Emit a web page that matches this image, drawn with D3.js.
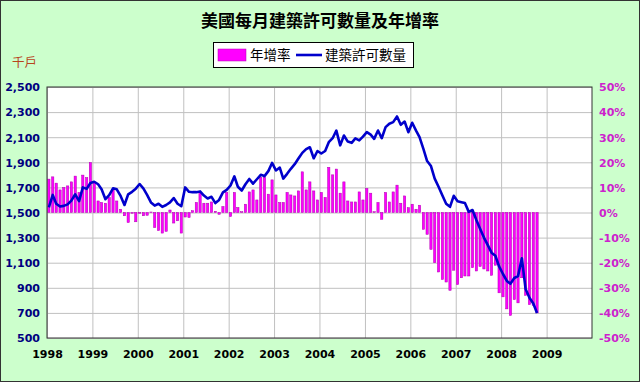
<!DOCTYPE html>
<html>
<head>
<meta charset="utf-8">
<script src="https://cdn.jsdelivr.net/npm/d3@7"></script>
<style>
  html, body { margin: 0; padding: 0; background: #fff; }
  svg { display: block; }
</style>
</head>
<body>
<svg id="chart" width="640" height="382"></svg>
<script>
// * chart data (monthly, Jan 1998 - Oct 2008)
const yearLabels = ["1998", "1999", "2000", "2001", "2002", "2003", "2004", "2005", "2006", "2007", "2008", "2009"];
const permitTicks = [500, 700, 900, 1100, 1300, 1500, 1700, 1900, 2100, 2300, 2500];
const growthTicks = [-50, -40, -30, -20, -10, 0, 10, 20, 30, 40, 50];
const legendLabels = ["年增率", "建築許可數量"];

// 建築許可數量 (千戶)
const permits = [
  1540, 1640, 1570, 1548, 1553, 1565, 1595, 1645, 1590, 1700, 1688, 1735,
  1745, 1725, 1685, 1606, 1638, 1693, 1685, 1632, 1560, 1645, 1665, 1690,
  1727, 1690, 1640, 1580, 1555, 1570, 1545, 1560, 1580, 1615, 1570, 1550,
  1700, 1665, 1662, 1662, 1668, 1635, 1612, 1625, 1575, 1600, 1660, 1680,
  1715, 1788, 1705, 1675, 1725, 1767, 1730, 1765, 1800, 1790, 1830, 1895,
  1835, 1858, 1770, 1808, 1848, 1885, 1930, 1975, 2005, 2020, 1932, 1990,
  1970, 1990, 2060, 2092, 2153, 2035, 2113, 2065, 2055, 2090, 2075, 2105,
  2140, 2120, 2087, 2153, 2092, 2180, 2207, 2220, 2265, 2199, 2225, 2140,
  2215, 2153, 2100, 2007, 1910, 1870, 1770, 1705, 1635, 1570, 1545, 1633,
  1590, 1582, 1575, 1505, 1520, 1440, 1370, 1300, 1240, 1180, 1155, 1070,
  1010, 955, 932, 978, 993, 1135, 890, 820, 775, 700,
];

// 年增率 (%)
const yoyGrowth = [
  13.3, 14.2, 11.7, 9.0, 10.0, 10.6, 12.2, 14.5, 8.0, 14.9, 13.9, 19.9,
  12.0, 4.6, 4.0, 3.7, 6.0, 9.0, 4.6, 1.3, -1.3, -4.0, -0.3, -3.7,
  -0.3, -1.3, -1.1, 0.2, -6.0, -7.2, -8.2, -7.5, 1.0, -4.2, -3.3, -8.2,
  -1.8, -2.0, 0.7, 4.0, 8.0, 3.7, 3.7, 4.2, 0.5, -0.7, 2.4, 8.0,
  -1.6, 8.0, 2.0, 0.3, 3.3, 8.2, 9.0, 5.0, 14.0, 14.0, 7.3, 13.0,
  7.0, 4.0, 4.0, 8.0, 7.0, 6.6, 8.6, 16.2, 9.0, 12.2, 8.6, 5.0,
  8.0, 6.0, 18.0, 15.0, 17.3, 7.7, 12.2, 4.6, 4.2, 4.2, 8.2, 5.0,
  9.6, 7.7, 0.3, 4.0, -2.7, 8.0, 4.2, 8.2, 10.9, 3.7, 6.6, 1.9,
  3.3, 1.3, 2.9, -6.7, -8.7, -14.7, -20.0, -23.7, -26.7, -27.7, -31.0, -23.0,
  -28.7, -26.0, -25.3, -25.3, -22.0, -23.3, -21.5, -22.5, -23.3, -25.0, -21.0, -32.0,
  -33.6, -38.4, -41.0, -34.7, -36.0, -26.0, -33.0, -36.7, -37.0, -40.0,
];

const months = d3.timeMonth.range(new Date(1998, 0, 1), new Date(2008, 10, 1));

const svg = d3.select("#chart");
const W = 640, H = 382;
const plot = { left: 47, right: 592, top: 87, bottom: 338 };
const cjk = "'Noto Sans CJK TC', 'Noto Sans CJK SC', sans-serif";
const num = "'DejaVu Sans', Verdana, sans-serif";

// * background + frame
svg.append("rect")
  .attr("x", 0.5).attr("y", 0.5)
  .attr("width", W - 1).attr("height", H - 1)
  .style("fill", "#CCFFCC")
  .style("stroke", "#333")
  .style("stroke-width", 1);

// * scales
const xScale = d3.scaleTime()
  .domain([new Date(1998, 0, 1), new Date(2010, 0, 1)])
  .range([plot.left, plot.right]);
const yLeft = d3.scaleLinear().domain([500, 2500]).range([plot.bottom, plot.top]);
const yRight = d3.scaleLinear().domain([-50, 50]).range([plot.bottom, plot.top]);
const xCenter = (i) => xScale(d3.timeDay.offset(months[i], 15));
const step = (plot.right - plot.left) / 144;
const barWidth = step * 0.6;

// * plot area
svg.append("rect")
  .attr("x", plot.left).attr("y", plot.top)
  .attr("width", plot.right - plot.left).attr("height", plot.bottom - plot.top)
  .style("fill", "#fff");

// * gridlines from axes
const yearDates = yearLabels.map((y) => new Date(+y, 0, 1));
svg.append("g")
  .attr("transform", `translate(0,${plot.top})`)
  .call(d3.axisBottom(xScale).tickValues(yearDates).tickSize(plot.bottom - plot.top).tickFormat(""))
  .call((g) => g.select(".domain").remove())
  .call((g) => g.selectAll("line").style("stroke", "#C0C0C0"));

svg.append("g")
  .attr("transform", `translate(${plot.left},0)`)
  .call(d3.axisRight(yLeft).tickValues(permitTicks).tickSize(plot.right - plot.left).tickFormat(""))
  .call((g) => g.select(".domain").remove())
  .call((g) => g.selectAll("line").style("stroke", "#C0C0C0"));

// * bars (年增率, right axis)
svg.append("g")
  .selectAll("rect")
  .data(yoyGrowth)
  .enter()
  .append("rect")
  .attr("x", (d, i) => xCenter(i) - barWidth / 2)
  .attr("y", (d) => Math.min(yRight(d), yRight(0)))
  .attr("width", barWidth)
  .attr("height", (d) => Math.abs(yRight(d) - yRight(0)))
  .style("fill", "#FF00FF")
  .style("stroke", "#B000B0")
  .style("stroke-width", 0.5);

// * line (建築許可數量, left axis)
const line = d3.line()
  .x((d, i) => xCenter(i))
  .y((d) => yLeft(d));
svg.append("path")
  .datum(permits)
  .attr("d", line)
  .style("fill", "none")
  .style("stroke", "#0000CC")
  .style("stroke-width", 2.6)
  .style("stroke-linejoin", "round");

// * plot border
svg.append("rect")
  .attr("x", plot.left).attr("y", plot.top)
  .attr("width", plot.right - plot.left).attr("height", plot.bottom - plot.top)
  .style("fill", "none")
  .style("stroke", "#333")
  .style("stroke-width", 1);

// * axes labels
const leftAxis = svg.append("g")
  .attr("transform", `translate(${plot.left - 7},0)`)
  .call(d3.axisLeft(yLeft).tickValues(permitTicks).tickSize(0).tickFormat(d3.format(",")));
leftAxis.select(".domain").remove();
leftAxis.selectAll("text")
  .attr("x", 0).attr("dy", "0.35em")
  .style("font-family", num).style("font-size", "11px").style("font-weight", "bold")
  .style("fill", "#000080");

const rightAxis = svg.append("g")
  .attr("transform", `translate(${plot.right + 7},0)`)
  .call(d3.axisRight(yRight).tickValues(growthTicks).tickSize(0).tickFormat((d) => `${d}%`));
rightAxis.select(".domain").remove();
rightAxis.selectAll("text")
  .attr("x", 0).attr("dy", "0.35em")
  .style("font-family", num).style("font-size", "11px").style("font-weight", "bold")
  .style("fill", "#CC22CC");

const bottomAxis = svg.append("g")
  .attr("transform", `translate(0,${plot.bottom + 9})`)
  .call(d3.axisBottom(xScale).tickValues(yearDates).tickSize(0).tickFormat((d, i) => yearLabels[i]));
bottomAxis.select(".domain").remove();
bottomAxis.selectAll("text")
  .style("font-family", num).style("font-size", "11px").style("font-weight", "bold")
  .style("fill", "#000");

// * unit label
svg.append("text")
  .attr("x", 12).attr("y", 67)
  .text("千戶")
  .style("font-family", cjk).style("font-size", "12.5px")
  .style("fill", "#B8451C");

// * title
svg.append("text")
  .attr("x", 320).attr("y", 27)
  .attr("text-anchor", "middle")
  .text("美國每月建築許可數量及年增率")
  .style("font-family", cjk).style("font-size", "17px").style("font-weight", "bold")
  .style("fill", "#000");

// * legend
const legend = svg.append("g");
legend.append("rect")
  .attr("x", 213.5).attr("y", 42.5).attr("width", 200).attr("height", 25)
  .style("fill", "#fff").style("stroke", "#000").style("stroke-width", 1);
legend.append("rect")
  .attr("x", 218).attr("y", 49).attr("width", 28).attr("height", 12)
  .style("fill", "#FF00FF").style("stroke", "#B000B0").style("stroke-width", 0.5);
legend.append("text")
  .attr("x", 250).attr("y", 60)
  .text(legendLabels[0])
  .style("font-family", cjk).style("font-size", "13.5px").style("fill", "#000");
legend.append("line")
  .attr("x1", 296).attr("x2", 322).attr("y1", 55).attr("y2", 55)
  .style("stroke", "#0000CC").style("stroke-width", 2.6);
legend.append("text")
  .attr("x", 325).attr("y", 60)
  .text(legendLabels[1])
  .style("font-family", cjk).style("font-size", "13.5px").style("fill", "#000");
</script>
</body>
</html>
